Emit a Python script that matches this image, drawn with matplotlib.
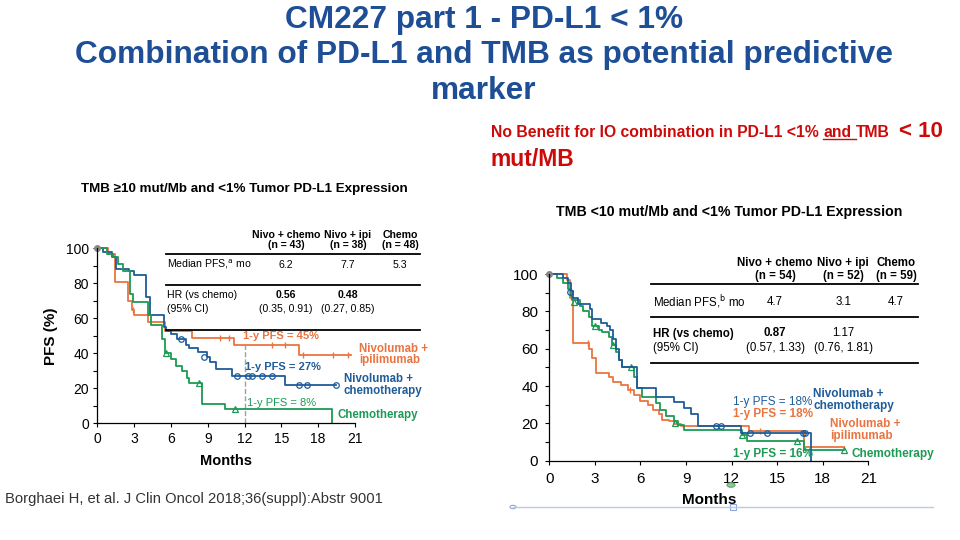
import matplotlib
matplotlib.use("Agg")
import matplotlib.pyplot as plt
from matplotlib.lines import Line2D
from matplotlib.patches import Circle, Rectangle

plt.rcParams['font.family'] = ['Liberation Sans', 'DejaVu Sans']

W, H = 960, 540
ORANGE = "#EA7440"
BLUE = "#1F5C99"
GREEN = "#1C9A55"
TBLUE = "#1E4E96"
RED = "#CC0A0A"

# ---------------- data: TMB >= 10 (left) ----------------
L_ipi_t = [0, 0.9, 1.45, 2.5, 2.8, 3.0, 4.1, 5.5, 7.7, 11.15, 16.4, 20.7]
L_ipi_s = [100, 97, 81, 70, 65, 62, 58, 53, 49, 45, 39, 39]
L_ipi_cens_t = [2.9, 10.0, 10.7, 14.2, 15.3, 16.8, 19.2, 20.45]
L_ipi_cens_s = [65, 49, 49, 45, 45, 39, 39, 39]

L_nch_t = [0, 0.5, 1.2, 1.5, 2.6, 3.0, 4.0, 4.3, 5.4, 5.6, 6.0, 6.5, 7.2, 7.5, 8.2, 8.9, 9.2, 9.7, 11.0, 15.3, 19.45]
L_nch_s = [100, 98, 95, 88, 87, 85, 72, 62, 55, 53, 51, 48, 45, 43, 41, 38, 35, 31, 27, 22, 22]
L_nch_cens_t = [6.8, 8.7, 11.4, 12.3, 12.6, 13.4, 14.2, 16.4, 17.1, 19.45]
L_nch_cens_s = [48, 38, 27, 27, 27, 27, 27, 22, 22, 22]

L_ch_t = [0, 0.8, 1.3, 1.7, 2.1, 2.68, 2.93, 4.16, 4.4, 5.3, 5.5, 6.0, 6.4, 6.9, 7.3, 7.5, 8.5, 10.4, 19.15]
L_ch_s = [100, 97, 95, 91, 87, 74, 69.5, 62, 56, 48, 40, 37, 33, 30, 26, 23, 11, 8, 0]
L_ch_cens_t = [5.6, 8.3, 11.2]
L_ch_cens_s = [40, 23, 8]

L_landmark = 12
L_landmark_val = 45

# ---------------- data: TMB < 10 (right) ----------------
R_ipi_t = [0, 1.14, 1.36, 1.54, 2.6, 2.8, 3.1, 3.9, 4.2, 4.7, 5.2, 5.6, 6.0, 6.5, 6.8, 7.2, 7.4, 7.9, 8.2, 8.7, 13.17, 16.75, 19.4]
R_ipi_s = [100, 97, 87, 63, 60, 55, 47, 45, 42, 40.5, 38, 35, 32, 30, 27, 25, 22, 21, 19.5, 18.6, 16, 7.4, 7.4]
R_ipi_cens_t = [2.55, 5.3, 13.9]
R_ipi_cens_s = [63, 37.8, 16]

R_nch_t = [0, 0.9, 1.2, 1.4, 1.55, 1.9, 2.68, 2.8, 3.4, 3.8, 4.0, 4.2, 4.4, 4.6, 4.8, 5.75, 7.0, 8.2, 8.9, 9.3, 9.77, 12.6, 17.2]
R_nch_s = [100, 98, 95, 91, 87, 84, 81, 76, 74, 72, 70, 65, 60, 54, 50, 38.8, 34, 31.5, 28, 25, 18.6, 15, 0]
R_nch_cens_t = [1.36, 11.0, 11.3, 13.2, 14.3, 16.7, 16.85]
R_nch_cens_s = [90.5, 18.6, 18.6, 15, 15, 15, 15]

R_ch_t = [0, 0.5, 0.9, 1.2, 1.4, 1.5, 2.0, 2.2, 2.6, 2.8, 3.3, 3.5, 3.9, 4.1, 4.4, 4.6, 4.8, 5.6, 5.8, 6.1, 7.0, 7.3, 7.7, 8.2, 8.5, 8.9, 12.67, 13.0, 16.77, 19.4]
R_ch_s = [100, 98, 95, 92, 88, 86, 83, 80, 77, 72, 70, 69, 66, 62, 58, 54, 50, 45, 38.8, 34, 31, 27, 24, 21, 19, 16.4, 13.8, 10.7, 5.7, 5.7]
R_ch_cens_t = [1.6, 3.0, 4.2, 5.4, 8.3, 12.7, 16.3, 19.4]
R_ch_cens_s = [85, 72, 62, 50, 20, 13.8, 10.7, 5.7]

x_ticks = [0, 3, 6, 9, 12, 15, 18, 21]
y_ticks = [0, 20, 40, 60, 80, 100]
y_minor = [10, 30, 50, 70, 90]

L_cols = ["Nivo + chemo\n(n = 43)", "Nivo + ipi\n(n = 38)", "Chemo\n(n = 48)"]
L_median = ["6.2", "7.7", "5.3"]
L_hr = ["0.56", "0.48"]
L_ci = ["(0.35, 0.91)", "(0.27, 0.85)"]
R_cols = ["Nivo + chemo\n(n = 54)", "Nivo + ipi\n(n = 52)", "Chemo\n(n = 59)"]
R_median = ["4.7", "3.1", "4.7"]
R_hr = ["0.87", "1.17"]
R_ci = ["(0.57, 1.33)", "(0.76, 1.81)"]

fig = plt.figure(figsize=(9.6, 5.4), dpi=100)
fig.patch.set_facecolor("white")


def fx(px):
    return px / W


def fy(py):
    return 1 - py / H


def ftext(px, py, s, **kw):
    kw.setdefault('va', 'center')
    return fig.text(fx(px), fy(py), s, **kw)


def fline(x1, x2, py, **kw):
    fig.add_artist(Line2D([fx(x1), fx(x2)], [fy(py), fy(py)], transform=fig.transFigure, **kw))


def setup_axes(ax, tick_fs, label_fs, pad, lpad):
    ax.set_xlim(0, 21)
    ax.set_ylim(0, 100)
    ax.set_xticks(x_ticks)
    ax.set_yticks(y_ticks)
    ax.set_yticks(y_minor, minor=True)
    ax.tick_params(axis='both', which='major', labelsize=tick_fs, length=3, width=0.8, pad=pad)
    ax.tick_params(axis='y', which='minor', length=3, width=0.8)
    for sp in ['top', 'right']:
        ax.spines[sp].set_visible(False)
    for sp in ['left', 'bottom']:
        ax.spines[sp].set_linewidth(0.9)
    ax.patch.set_alpha(0)
    ax.set_xlabel("Months", fontsize=label_fs, weight='bold', labelpad=lpad)


def draw_km(ax, t, s, ct, cs, color, marker, lw=1.3, ms=4):
    ax.step(t, s, where='post', color=color, lw=lw, clip_on=False)
    if marker == '|':
        ax.plot(ct, cs, ls='none', marker='|', color=color, ms=ms + 1, mew=1.0, clip_on=False)
    else:
        ax.plot(ct, cs, ls='none', marker=marker, mfc='none', mec=color, ms=ms, mew=0.9, clip_on=False)


# ---------------- titles ----------------
TFS = 22.8
ftext(484, 20, "CM227 part 1 - PD-L1 < 1%", ha='center', fontsize=TFS, color=TBLUE, weight='bold')
ftext(484, 55.5, "Combination of PD-L1 and TMB as potential predictive", ha='center', fontsize=TFS, color=TBLUE, weight='bold')
ftext(484, 91, "marker", ha='center', fontsize=TFS, color=TBLUE, weight='bold')

# red subtitle with mixed sizes
renderer = fig.canvas.get_renderer()
segments = [("No Benefit for IO combination in PD-L1 <1%", 11.3, False, 1.0),
            ("and", 11.3, True, 1.0),
            ("TMB", 11.3, False, 2.2),
            ("< 10", 16, False, 1.0)]
xcur = 491
base_py = 137
for txt, sz, ul, gapf in segments:
    t = fig.text(fx(xcur), fy(base_py), txt, fontsize=sz, weight='bold', color=RED, va='baseline')
    bb = t.get_window_extent(renderer)
    gap = 0.28 * sz * 100 / 72 * gapf
    if ul:
        fline(bb.x0, bb.x1 + gap, base_py + 2, color=RED, lw=1.0)
    xcur = bb.x1 + gap
fig.text(fx(491), fy(166), "mut/MB", fontsize=16.5, weight='bold', color=RED, va='baseline')

ftext(5, 499, "Borghaei H, et al. J Clin Oncol 2018;36(suppl):Abstr 9001", fontsize=10.6, color="#333333")

# ---------------- left chart ----------------
axL = fig.add_axes([fx(97.3), fy(423.3), (355 - 97.3) / W, (423.3 - 248.3) / H])
setup_axes(axL, 10, 10.5, 3, 6)
axL.set_ylabel("PFS (%)", fontsize=11, weight='bold', labelpad=6)
axL.axvline(L_landmark, ymax=L_landmark_val / 100, color='#A0A0A0', ls='--', lw=1.0)
draw_km(axL, L_ipi_t, L_ipi_s, L_ipi_cens_t, L_ipi_cens_s, ORANGE, '|')
draw_km(axL, L_nch_t, L_nch_s, L_nch_cens_t, L_nch_cens_s, BLUE, 'o')
draw_km(axL, L_ch_t, L_ch_s, L_ch_cens_t, L_ch_cens_s, GREEN, '^')
axL.plot([0], [100], 'o', color='#888888', ms=4, clip_on=False)

ftext(244, 189, "TMB \u226510 mut/Mb and <1% Tumor PD-L1 Expression", ha='center', fontsize=9.6, weight='bold')
for cx, lab in zip([286, 348, 400], L_cols):
    ftext(cx, 240, lab, ha='center', fontsize=7.6, weight='bold', linespacing=1.05)
fline(166, 420, 254.3, color='black', lw=1.3)
ftext(167, 264.5, r"Median PFS,$^{\mathrm{a}}$ mo", fontsize=7.6)
for cx, v in zip([286, 348, 400], L_median):
    ftext(cx, 264.5, v, ha='center', fontsize=7.6)
fline(166, 420, 285, color='black', lw=1.3)
ftext(167, 294.5, "HR (vs chemo)", fontsize=7.6)
ftext(167, 308.5, "(95% CI)", fontsize=7.6)
for cx, v, c in zip([286, 348], L_hr, L_ci):
    ftext(cx, 294.5, v, ha='center', fontsize=7.6, weight='bold')
    ftext(cx, 308.5, c, ha='center', fontsize=7.6)
fline(166, 420, 330, color='black', lw=1.3)

ftext(243, 336, "1-y PFS = 45%", fontsize=8, weight='bold', color=ORANGE)
ftext(245, 367, "1-y PFS = 27%", fontsize=8, weight='bold', color=BLUE)
ftext(247, 403, "1-y PFS = 8%", fontsize=8, color=GREEN)
ftext(359, 354.5, "Nivolumab +\nipilimumab", fontsize=8.3, weight='bold', color=ORANGE, linespacing=1.0)
ftext(344, 385, "Nivolumab +\nchemotherapy", fontsize=8.3, weight='bold', color=BLUE, linespacing=1.0)
ftext(338, 415, "Chemotherapy", fontsize=8.3, weight='bold', color=GREEN)

# ---------------- right chart ----------------
axR = fig.add_axes([fx(549.3), fy(460.7), (868.3 - 549.3) / W, (460.7 - 274) / H])
setup_axes(axR, 11, 11, 5, 5)
draw_km(axR, R_ipi_t, R_ipi_s, R_ipi_cens_t, R_ipi_cens_s, ORANGE, '|')
draw_km(axR, R_ch_t, R_ch_s, R_ch_cens_t, R_ch_cens_s, GREEN, '^')
draw_km(axR, R_nch_t, R_nch_s, R_nch_cens_t, R_nch_cens_s, BLUE, 'o')
axR.plot([0], [100], 'o', color='#888888', ms=4, clip_on=False)

ftext(729, 212, "TMB <10 mut/Mb and <1% Tumor PD-L1 Expression", ha='center', fontsize=10.2, weight='bold')
for cx, lab in zip([775, 843, 896], R_cols):
    ftext(cx, 269.5, lab, ha='center', fontsize=8.3, weight='bold', linespacing=1.05)
fline(651, 918, 284.3, color='black', lw=1.3)
ftext(653, 302, r"Median PFS,$^{\mathrm{b}}$ mo", fontsize=8.3)
for cx, v in zip([775, 843, 896], R_median):
    ftext(cx, 302, v, ha='center', fontsize=8.3)
fline(651, 918, 316.7, color='black', lw=1.3)
ftext(653, 333.5, "HR (vs chemo)", fontsize=8.3, weight='bold')
ftext(653, 348, "(95% CI)", fontsize=8.3)
for cx, v, c, wt in zip([775, 843], R_hr, R_ci, ['bold', 'normal']):
    ftext(cx, 333.5, v, ha='center', fontsize=8.3, weight=wt)
    ftext(cx, 348, c, ha='center', fontsize=8.3)
fline(651, 918, 363.3, color='black', lw=1.3)

ftext(733, 401.5, "1-y PFS = 18%", fontsize=8.5, color=BLUE)
ftext(733, 413.5, "1-y PFS = 18%", fontsize=8.5, weight='bold', color=ORANGE)
ftext(733, 454, "1-y PFS = 16%", fontsize=8.5, weight='bold', color=GREEN)
ftext(813, 400, "Nivolumab +\nchemotherapy", fontsize=8.5, weight='bold', color=BLUE, linespacing=1.0)
ftext(830, 430, "Nivolumab +\nipilimumab", fontsize=8.5, weight='bold', color=ORANGE, linespacing=1.0)
ftext(851, 454, "Chemotherapy", fontsize=8.5, weight='bold', color=GREEN)

# selection-frame artefacts under the right chart
fline(513, 933, 507, color='#B8CCE4', lw=1.0)
fig.add_artist(Circle((fx(513), fy(507)), 3 / W, transform=fig.transFigure, fc='white', ec='#8EA9DB', lw=0.8))
fig.add_artist(Rectangle((fx(730), fy(510)), 6 / W, 6 / H, transform=fig.transFigure, fc='white', ec='#8EA9DB', lw=0.8))
fig.add_artist(Circle((fx(731), fy(485)), 4 / W, transform=fig.transFigure, fc='#8CCB94', ec='#5FA86A', lw=0.8))

fig.savefig("out.png", dpi=100)
